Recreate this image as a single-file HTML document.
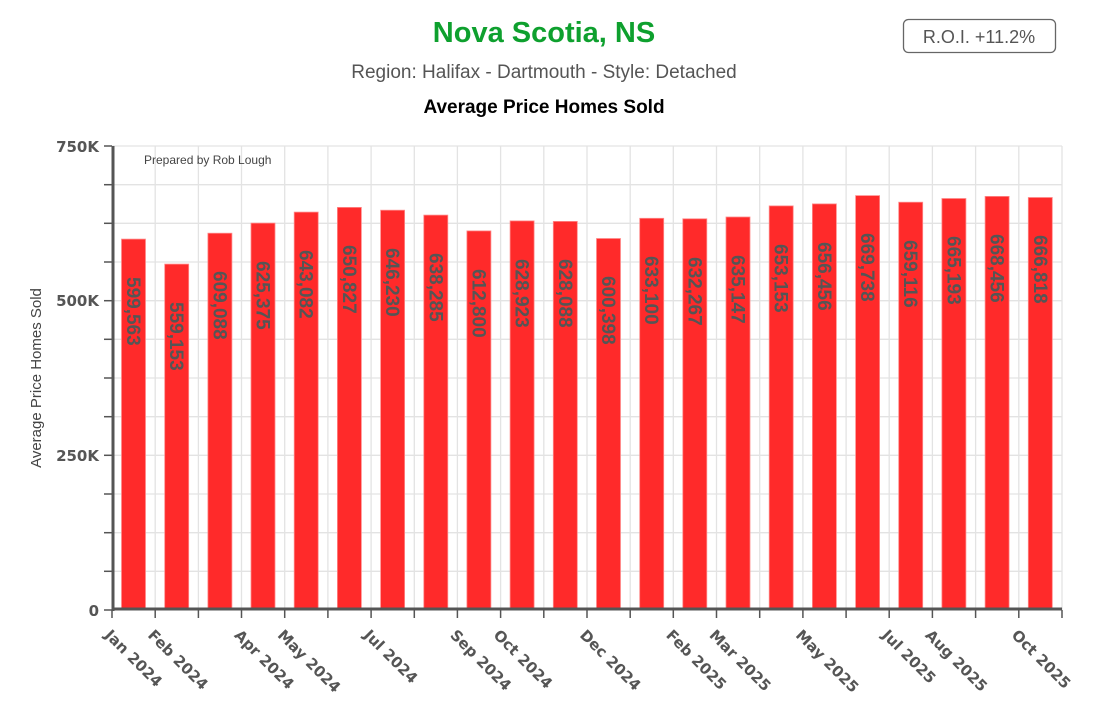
<!DOCTYPE html>
<html><head><meta charset="utf-8"><style>
body{margin:0;background:#fff;}
svg{display:block;font-family:"Liberation Sans",Arial,sans-serif;}
</style></head><body>
<svg width="1093" height="712" viewBox="0 0 1093 712">
<text x="544" y="42" text-anchor="middle" font-size="29" font-weight="bold" fill="#0ea02e">Nova Scotia, NS</text>
<text x="544" y="78" text-anchor="middle" font-size="19" fill="#555">Region: Halifax - Dartmouth - Style: Detached</text>
<text x="544" y="113" text-anchor="middle" font-size="19" font-weight="bold" fill="#000">Average Price Homes Sold</text>
<rect x="903.5" y="19.5" width="152" height="33" rx="5" fill="#fff" stroke="#666" stroke-width="1.3"/>
<text x="979" y="43" text-anchor="middle" font-size="18" fill="#555">R.O.I. +11.2%</text>

<g stroke="#e3e3e3" stroke-width="1.3">
<line x1="112" x2="1062" y1="146" y2="146"/><line x1="112" x2="1062" y1="184.7" y2="184.7"/><line x1="112" x2="1062" y1="223.3" y2="223.3"/><line x1="112" x2="1062" y1="262" y2="262"/><line x1="112" x2="1062" y1="300.7" y2="300.7"/><line x1="112" x2="1062" y1="339.3" y2="339.3"/><line x1="112" x2="1062" y1="378" y2="378"/><line x1="112" x2="1062" y1="416.7" y2="416.7"/><line x1="112" x2="1062" y1="455.3" y2="455.3"/><line x1="112" x2="1062" y1="494" y2="494"/><line x1="112" x2="1062" y1="532.7" y2="532.7"/><line x1="112" x2="1062" y1="571.3" y2="571.3"/>
<line x1="155.2" x2="155.2" y1="146" y2="610"/><line x1="198.4" x2="198.4" y1="146" y2="610"/><line x1="241.5" x2="241.5" y1="146" y2="610"/><line x1="284.7" x2="284.7" y1="146" y2="610"/><line x1="327.9" x2="327.9" y1="146" y2="610"/><line x1="371.1" x2="371.1" y1="146" y2="610"/><line x1="414.3" x2="414.3" y1="146" y2="610"/><line x1="457.4" x2="457.4" y1="146" y2="610"/><line x1="500.6" x2="500.6" y1="146" y2="610"/><line x1="543.8" x2="543.8" y1="146" y2="610"/><line x1="587" x2="587" y1="146" y2="610"/><line x1="630.2" x2="630.2" y1="146" y2="610"/><line x1="673.3" x2="673.3" y1="146" y2="610"/><line x1="716.5" x2="716.5" y1="146" y2="610"/><line x1="759.7" x2="759.7" y1="146" y2="610"/><line x1="802.9" x2="802.9" y1="146" y2="610"/><line x1="846.1" x2="846.1" y1="146" y2="610"/><line x1="889.2" x2="889.2" y1="146" y2="610"/><line x1="932.4" x2="932.4" y1="146" y2="610"/><line x1="975.6" x2="975.6" y1="146" y2="610"/><line x1="1018.8" x2="1018.8" y1="146" y2="610"/><line x1="1062" x2="1062" y1="146" y2="610"/>
</g>
<text x="144" y="164" font-size="12" fill="#444">Prepared by Rob Lough</text>

<g fill="#ff2a2a" stroke="#ff8a8a" stroke-width="0.8">
<rect x="121.5" y="239.1" width="24" height="370.9"/>
<rect x="164.7" y="264.1" width="24" height="345.9"/>
<rect x="207.9" y="233.2" width="24" height="376.8"/>
<rect x="251" y="223.1" width="24" height="386.9"/>
<rect x="294.2" y="212.1" width="24" height="397.9"/>
<rect x="337.4" y="207.4" width="24" height="402.6"/>
<rect x="380.6" y="210.2" width="24" height="399.8"/>
<rect x="423.8" y="215.1" width="24" height="394.9"/>
<rect x="466.9" y="230.9" width="24" height="379.1"/>
<rect x="510.1" y="220.9" width="24" height="389.1"/>
<rect x="553.3" y="221.4" width="24" height="388.6"/>
<rect x="596.5" y="238.5" width="24" height="371.5"/>
<rect x="639.7" y="218.3" width="24" height="391.7"/>
<rect x="682.8" y="218.8" width="24" height="391.2"/>
<rect x="726" y="217" width="24" height="393"/>
<rect x="769.2" y="205.9" width="24" height="404.1"/>
<rect x="812.4" y="203.9" width="24" height="406.1"/>
<rect x="855.6" y="195.6" width="24" height="414.4"/>
<rect x="898.7" y="202.2" width="24" height="407.8"/>
<rect x="941.9" y="198.5" width="24" height="411.5"/>
<rect x="985.1" y="196.4" width="24" height="413.6"/>
<rect x="1028.3" y="197.5" width="24" height="412.5"/>
</g>

<g font-size="19" font-weight="bold" fill="#555">
<text transform="translate(127,277) rotate(90)">599,563</text>
<text transform="translate(170.2,302) rotate(90)">559,153</text>
<text transform="translate(213.4,271) rotate(90)">609,088</text>
<text transform="translate(256.5,261) rotate(90)">625,375</text>
<text transform="translate(299.7,250) rotate(90)">643,082</text>
<text transform="translate(342.9,245) rotate(90)">650,827</text>
<text transform="translate(386.1,248) rotate(90)">646,230</text>
<text transform="translate(429.3,253) rotate(90)">638,285</text>
<text transform="translate(472.4,269) rotate(90)">612,800</text>
<text transform="translate(515.6,259) rotate(90)">628,923</text>
<text transform="translate(558.8,259) rotate(90)">628,088</text>
<text transform="translate(602,276) rotate(90)">600,398</text>
<text transform="translate(645.2,256) rotate(90)">633,100</text>
<text transform="translate(688.3,257) rotate(90)">632,267</text>
<text transform="translate(731.5,255) rotate(90)">635,147</text>
<text transform="translate(774.7,244) rotate(90)">653,153</text>
<text transform="translate(817.9,242) rotate(90)">656,456</text>
<text transform="translate(861.1,233) rotate(90)">669,738</text>
<text transform="translate(904.2,240) rotate(90)">659,116</text>
<text transform="translate(947.4,236) rotate(90)">665,193</text>
<text transform="translate(990.6,234) rotate(90)">668,456</text>
<text transform="translate(1033.8,235) rotate(90)">666,818</text>
</g>

<g stroke="#555" stroke-width="1.5">
<line x1="104" x2="112" y1="146" y2="146"/><line x1="104" x2="112" y1="184.7" y2="184.7"/><line x1="104" x2="112" y1="223.3" y2="223.3"/><line x1="104" x2="112" y1="262" y2="262"/><line x1="104" x2="112" y1="300.7" y2="300.7"/><line x1="104" x2="112" y1="339.3" y2="339.3"/><line x1="104" x2="112" y1="378" y2="378"/><line x1="104" x2="112" y1="416.7" y2="416.7"/><line x1="104" x2="112" y1="455.3" y2="455.3"/><line x1="104" x2="112" y1="494" y2="494"/><line x1="104" x2="112" y1="532.7" y2="532.7"/><line x1="104" x2="112" y1="571.3" y2="571.3"/><line x1="104" x2="112" y1="610" y2="610"/>
<line x1="112" x2="112" y1="610" y2="618"/><line x1="155.2" x2="155.2" y1="610" y2="618"/><line x1="198.4" x2="198.4" y1="610" y2="618"/><line x1="241.5" x2="241.5" y1="610" y2="618"/><line x1="284.7" x2="284.7" y1="610" y2="618"/><line x1="327.9" x2="327.9" y1="610" y2="618"/><line x1="371.1" x2="371.1" y1="610" y2="618"/><line x1="414.3" x2="414.3" y1="610" y2="618"/><line x1="457.4" x2="457.4" y1="610" y2="618"/><line x1="500.6" x2="500.6" y1="610" y2="618"/><line x1="543.8" x2="543.8" y1="610" y2="618"/><line x1="587" x2="587" y1="610" y2="618"/><line x1="630.2" x2="630.2" y1="610" y2="618"/><line x1="673.3" x2="673.3" y1="610" y2="618"/><line x1="716.5" x2="716.5" y1="610" y2="618"/><line x1="759.7" x2="759.7" y1="610" y2="618"/><line x1="802.9" x2="802.9" y1="610" y2="618"/><line x1="846.1" x2="846.1" y1="610" y2="618"/><line x1="889.2" x2="889.2" y1="610" y2="618"/><line x1="932.4" x2="932.4" y1="610" y2="618"/><line x1="975.6" x2="975.6" y1="610" y2="618"/><line x1="1018.8" x2="1018.8" y1="610" y2="618"/><line x1="1062" x2="1062" y1="610" y2="618"/>
</g>
<line x1="113" x2="113" y1="146" y2="611" stroke="#555" stroke-width="3"/>
<line x1="112" x2="1062" y1="609" y2="609" stroke="#555" stroke-width="3"/>

<g font-size="15" font-weight="bold" fill="#555" text-anchor="end" font-family="'DejaVu Sans',sans-serif">
<text x="99" y="152">750K</text>
<text x="99" y="306">500K</text>
<text x="99" y="461">250K</text>
<text x="99" y="616">0</text>
</g>
<text transform="translate(41,378) rotate(-90)" text-anchor="middle" font-size="15" fill="#444">Average Price Homes Sold</text>

<g font-size="15" font-weight="bold" fill="#555" font-family="'DejaVu Sans',sans-serif">
<text transform="translate(104,636) rotate(45)">Jan 2024</text>
<text transform="translate(147,636) rotate(45)">Feb 2024</text>
<text transform="translate(233.5,636) rotate(45)">Apr 2024</text>
<text transform="translate(276.7,636) rotate(45)">May 2024</text>
<text transform="translate(363,636) rotate(45)">Jul 2024</text>
<text transform="translate(449.4,636) rotate(45)">Sep 2024</text>
<text transform="translate(492.6,636) rotate(45)">Oct 2024</text>
<text transform="translate(579,636) rotate(45)">Dec 2024</text>
<text transform="translate(665.3,636) rotate(45)">Feb 2025</text>
<text transform="translate(708.5,636) rotate(45)">Mar 2025</text>
<text transform="translate(794.9,636) rotate(45)">May 2025</text>
<text transform="translate(881.2,636) rotate(45)">Jul 2025</text>
<text transform="translate(924.4,636) rotate(45)">Aug 2025</text>
<text transform="translate(1010.8,636) rotate(45)">Oct 2025</text>
</g>
</svg>
</body></html>
